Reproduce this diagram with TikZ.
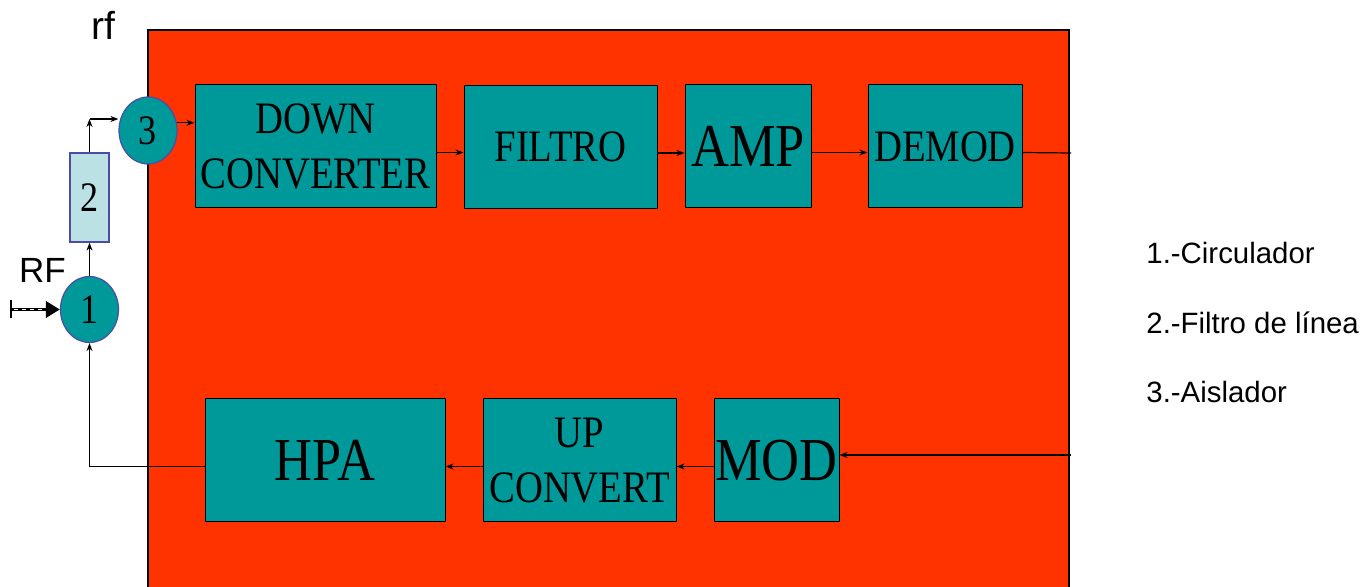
\documentclass[tikz,border=0pt]{standalone}
\usepackage{fontspec}
\setmainfont{Liberation Serif}
\setsansfont{Liberation Sans}
\newfontfamily\blkfont[FakeStretch=0.86]{Liberation Serif}
\usepackage{tikz}
\usetikzlibrary{shapes.geometric, arrows.meta, positioning}
\definecolor{rfred}{HTML}{FF3300}
\definecolor{blkteal}{HTML}{009999}
\definecolor{filtblue}{HTML}{BCE1E4}
\definecolor{portedge}{HTML}{4C4CA8}
\tikzset{
  blk/.style={
    rectangle, draw=black, line width=0.5pt,
    fill=blkteal, inner sep=0pt, align=center,
    minimum height=61.5pt,
  },
  arrow/.style={-{Stealth[length=4pt, width=3pt]}, line width=0.6pt},
  annot/.style={font=\fontsize{14.7}{17}\selectfont\sffamily, anchor=base west, inner sep=0pt},
}

\begin{document}
\begin{tikzpicture}[
  x=0.5pt, y=-0.5pt,
  port/.style={ellipse, draw=portedge, line width=0.6pt, fill=blkteal,
               minimum width=29pt, minimum height=33pt, inner sep=0pt,
               font=\fontsize{21}{24}\selectfont\blkfont},
  linefilt/.style={rectangle, draw=portedge, line width=0.6pt, fill=filtblue,
               minimum width=19.5pt, minimum height=44.5pt, inner sep=0pt,
               font=\fontsize{21}{24}\selectfont\blkfont},
  small/.style={font=\fontsize{22.5}{27.5}\selectfont\blkfont},
  mid/.style={font=\fontsize{22.5}{27}\selectfont\blkfont},
  big/.style={font=\fontsize{30.5}{34}\selectfont\blkfont},
  rfin/.style={{Bar[width=9pt, line width=1.2pt]}-{Triangle[length=7pt, width=8pt]},
               line width=1.8pt,
               postaction={draw=white, line width=0.5pt, dash pattern=on 2pt off 2pt,
                           -, shorten >=7pt, shorten <=2pt}},
]
  \useasboundingbox (0,0) rectangle (1371,587);
  \fill[white] (0,0) rectangle (1371,587);

  % panel
  \filldraw[fill=rfred, draw=black, line width=0.6pt] (148,30) rectangle (1069,600);

  % Row 1
  \node[blk, small, minimum width=120.5pt] (dc)    at (315.5,146.5) {DOWN\\CONVERTER};
  \node[blk, mid,   minimum width=96.5pt]  (filt)  at (560.5,147)   {FILTRO};
  \node[blk, big,   minimum width=63pt]    (amp)   at (748,146.5)   {AMP};
  \node[blk, mid,   minimum width=77pt]    (demod) at (945,146.5)   {DEMOD};

  % Row 2
  \node[blk, big,   minimum width=120pt]   (hpa)   at (325,460.5)   {HPA};
  \node[blk, small, minimum width=96.5pt]  (upc)   at (579.5,460.5) {UP\\CONVERT};
  \node[blk, big,   minimum width=62.5pt]  (mod)   at (776.5,460.5) {MOD};

  % front end
  \node[port]     (c1) at (89.5,309.5) {1};
  \node[linefilt] (f2) at (89.5,197.5) {2};
  \node[port, minimum height=33.5pt] (c3) at (148,130.5) {3};

  \coordinate (kink)  at (89.5,119);
  \coordinate (rfsrc) at (10,309.5);
  \coordinate (rxout) at (1071,153);
  \coordinate (txin)  at (1071,455);

  % labels
  \node[font=\fontsize{19.5}{24}\selectfont\sffamily, anchor=base, inner sep=0pt] (rflow) at (103,40) {rf};
  \node[font=\fontsize{17.5}{24}\selectfont\sffamily, anchor=base, inner sep=0pt] (rfup)  at (42.5,283) {RF};
  \node[annot] (leg1) at (1146,264) {1.-Circulador};
  \node[annot] (leg2) at (1146,334) {2.-Filtro de línea};
  \node[annot] (leg3) at (1146,403) {3.-Aislador};

  % Arrows
  \draw[rfin] (rfsrc) -- (c1.west);
  \draw[arrow] (c1.north) -- (f2.south);
  \draw[arrow] (f2.north) -- (kink);
  \draw[arrow] (kink) -- (kink -| c3.west);
  \draw[arrow] (c3.15) -- (c3.15 -| dc.west);
  \draw[arrow] ([yshift=-3pt]dc.east)  -- ([yshift=-3pt]dc.east -| filt.west);
  \draw[arrow] ([yshift=-3pt]filt.east) -- ([yshift=-3pt]filt.east -| amp.west);
  \draw[arrow] ([yshift=-3pt]amp.east)  -- ([yshift=-3pt]amp.east -| demod.west);
  \draw[line width=0.6pt] ([yshift=-3pt]demod.east) -- (rxout);

  \draw[arrow] (txin) -- (txin -| mod.east);
  \draw[arrow] ([yshift=-3pt]mod.west) -- ([yshift=-3pt]mod.west -| upc.east);
  \draw[arrow] ([yshift=-3pt]upc.west) -- ([yshift=-3pt]upc.west -| hpa.east);
  \draw[arrow] ([yshift=-3pt]hpa.west) -| (c1.south);

\end{tikzpicture}
\end{document}
